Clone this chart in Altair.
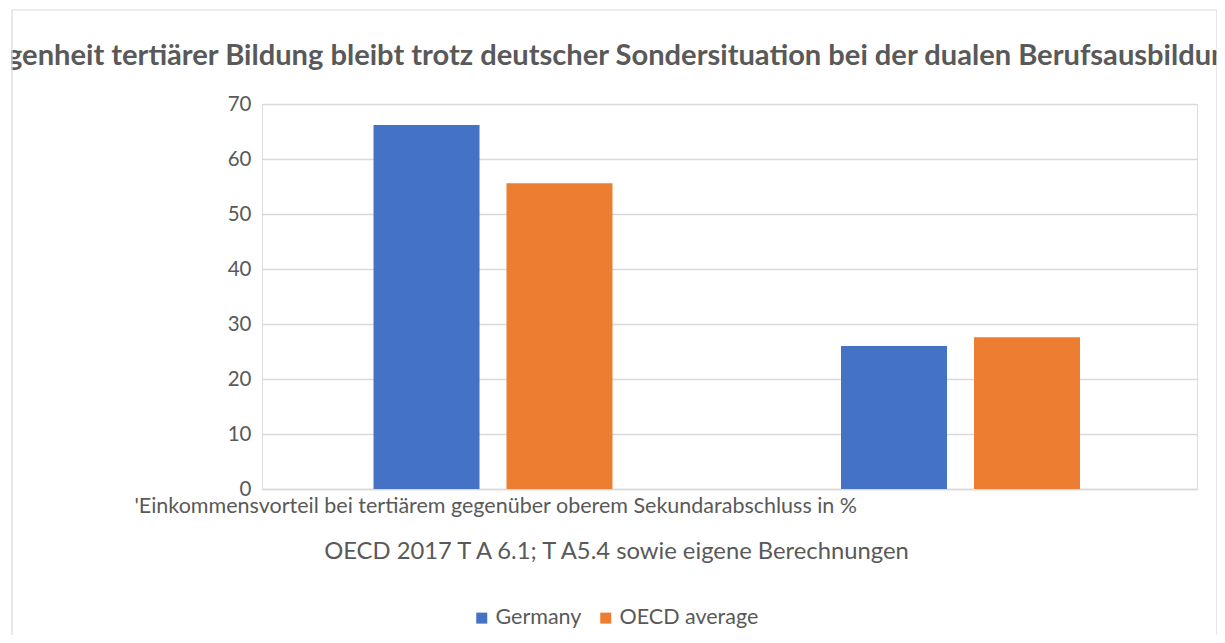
import altair as alt
import pandas as pd

categories = ["'Einkommensvorteil bei tertiärem gegenüber oberem Sekundarabschluss in %", " "]
series = ["Germany", "OECD average"]
germany = [66.2, 26.0]
oecd = [55.6, 27.6]
title_text = "Überlegenheit tertiärer Bildung bleibt trotz deutscher Sondersituation bei der dualen Berufsausbildung"
source_text = "OECD 2017 T A 6.1; T A5.4 sowie eigene Berechnungen"
colors = ["#4472C4", "#ED7D31"]

rows = []
for i, c in enumerate(categories):
    rows.append({"cat": c, "series": series[0], "value": germany[i], "order": i})
    rows.append({"cat": c, "series": series[1], "value": oecd[i], "order": i})
df = pd.DataFrame(rows)

FONT = "Lato"
GRAY = "#595959"
W, H = 935, 385

bars = alt.Chart(df).mark_bar().encode(
    x=alt.X("cat:N", sort=categories,
            scale=alt.Scale(paddingInner=0, paddingOuter=0),
            axis=alt.Axis(title=source_text, titleX=354, titleY=62, titleBaseline="middle",
                          titleFont=FONT, titleFontSize=23.8, titleFontWeight="normal", titleColor=GRAY,
                          labelAngle=0, labelLimit=0, labelFont=FONT, labelFontSize=21.5,
                          labelColor=GRAY, labelPadding=6, labelOverlap=False, labelBound=False,
                          ticks=False, domainColor="#d9d9d9", domainWidth=1.5)),
    xOffset=alt.XOffset("series:N", sort=series,
                        scale=alt.Scale(paddingInner=0.203, paddingOuter=0.859, align=0.488)),
    y=alt.Y("value:Q", scale=alt.Scale(domain=[0, 70]),
            axis=alt.Axis(title=None, values=list(range(0, 71, 10)), labelFont=FONT,
                          labelFontSize=20.5, labelColor=GRAY, labelPadding=11,
                          ticks=False, domain=False, gridColor="#d9d9d9", gridWidth=1.4)),
    color=alt.Color("series:N", sort=series,
                    scale=alt.Scale(domain=series, range=colors),
                    legend=alt.Legend(title=None, orient="none", direction="horizontal",
                                      legendX=209, legendY=503, symbolType="square",
                                      symbolSize=121, symbolStrokeWidth=0, labelFont=FONT,
                                      labelFontSize=21.5, labelColor=GRAY, labelOffset=3,
                                      columnPadding=13, padding=0)),
)

title_df = pd.DataFrame({"t": [title_text]})
title = alt.Chart(title_df).mark_text(font=FONT, fontSize=29.1, fontWeight="bold",
                                      color=GRAY, align="left", baseline="middle").encode(
    text="t:N", x=alt.value(-342), y=alt.value(-48))

frame = alt.Chart(title_df).mark_rect(fill=None, stroke="#d9d9d9", strokeWidth=1.2).encode(
    x=alt.value(-250), x2=alt.value(955), y=alt.value(-94), y2=alt.value(560))
mask = alt.Chart(title_df).mark_rect(fill="white", stroke=None).encode(
    x=alt.value(-260), x2=alt.value(-250.6), y=alt.value(-100), y2=alt.value(560))

chart = alt.layer(bars, title, mask, frame).properties(
    width=W, height=H,
    autosize=alt.AutoSizeParams(type="none"),
    padding={"left": 254, "top": 96, "right": 20, "bottom": 146},
).configure_view(stroke=None).configure(background="white")

chart.save("out.html", embed_options={"renderer": "svg", "actions": False})
